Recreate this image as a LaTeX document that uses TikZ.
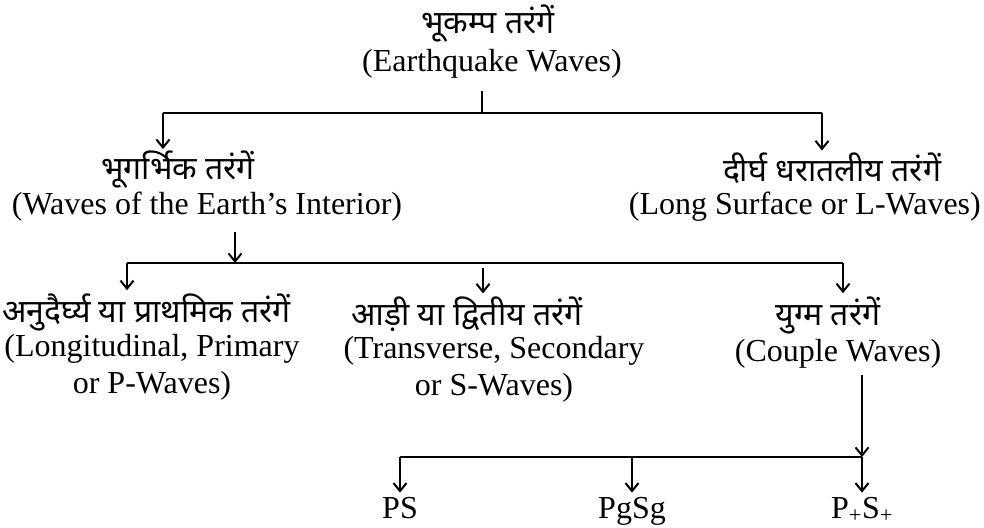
\documentclass[tikz,border=0pt]{standalone}
\usepackage{fontspec}
\setmainfont{Liberation Serif}
\newfontfamily\hin[Script=Devanagari]{Noto Sans}
\usepackage{tikz}
\usetikzlibrary{arrows.meta,positioning,calc}
\tikzset{
    hindi/.style={font=\hin\fontsize{32}{36}\selectfont, inner sep=0pt},
    eng/.style={font=\fontsize{32}{37}\selectfont, align=center, inner sep=0pt},
    bar/.style={line width=2pt, black},
    arr/.style={line width=2pt, black, -{Straight Barb[length=8pt,width=13pt]}},
}

\begin{document}
\begin{tikzpicture}[x=1pt, y=-1pt]
    \useasboundingbox (0,0) rectangle (984,527);

    % Earthquake waves
    \node[hindi] (quakeH) at (488,24) {भूकम्प तरंगें};
    \node[eng] (quakeE) at (492,64) {(Earthquake Waves)};
    \coordinate (t0) at (482,113);
    \coordinate (tl) at (163,113);
    \coordinate (tr) at (822,113);
    \draw[bar] ([yshift=-12pt]quakeE.south -| t0) -- (t0);
    \draw[bar] (tl) -- (tr);

    % Second level
    \node[hindi] (intH) at (178,170) {भूगर्भिक तरंगें};
    \node[eng] (intE) at (207,207) {(Waves of the Earth's Interior)};
    \node[hindi] (surfH) at (832,168) {दीर्घ धरातलीय तरंगें};
    \node[eng, anchor=east] (surfE) at (981,207) {(Long Surface or L-Waves)};
    \draw[arr] (tl) -- ([yshift=2pt]tl |- intH.north);
    \draw[arr] (tr) -- ([yshift=2pt]tr |- surfH.north);

    % Body waves
    \coordinate (m0) at (235,263);
    \coordinate (ml) at (127,263);
    \coordinate (mm) at (483,263);
    \coordinate (mr) at (843,263);
    \draw[arr] ([yshift=-10pt]intE.south -| m0) -- (m0);
    \draw[bar] (ml) -- (mr);

    \node[hindi, anchor=west] (lonH) at (2,312) {अनुदैर्घ्य या प्राथमिक तरंगें};
    \node[eng] (lonE) at (152,367) {(Longitudinal, Primary\\or P-Waves)};
    \node[hindi] (traH) at (467,314) {आड़ी या द्वितीय तरंगें};
    \node[eng] (traE) at (494,369) {(Transverse, Secondary\\or S-Waves)};
    \node[hindi] (couH) at (828,315) {युग्म तरंगें};
    \node[eng] (couE) at (838,354) {(Couple Waves)};
    \draw[arr] (ml) -- ([yshift=3pt]ml |- lonH.north);
    \draw[arr] ([yshift=-5pt]mm) -- ([yshift=3pt]mm |- traH.north);
    \draw[arr] (mr) -- ([yshift=3pt]mr |- couH.north);

    % Couple waves
    \coordinate (bl) at (400,457);
    \coordinate (bm) at (632,457);
    \coordinate (br) at (862,457);
    \draw[arr] ([yshift=-6pt]couE.south -| br) -- (br);
    \draw[bar] (bl) -- (br);

    \node[eng, anchor=base] (ps) at (400,518) {PS};
    \node[eng, anchor=base] (pgsg) at (632,518) {PgSg};
    \node[eng, anchor=base] (ppsp) at (862,518) {P\textsubscript{+}S\textsubscript{+}};
    \draw[arr] (bl) -- ([yshift=4pt]bl |- ps.north);
    \draw[arr] (bm) -- ([yshift=4pt]bm |- pgsg.north);
    \draw[arr] (br) -- ([yshift=4pt]br |- ppsp.north);
\end{tikzpicture}
\end{document}
